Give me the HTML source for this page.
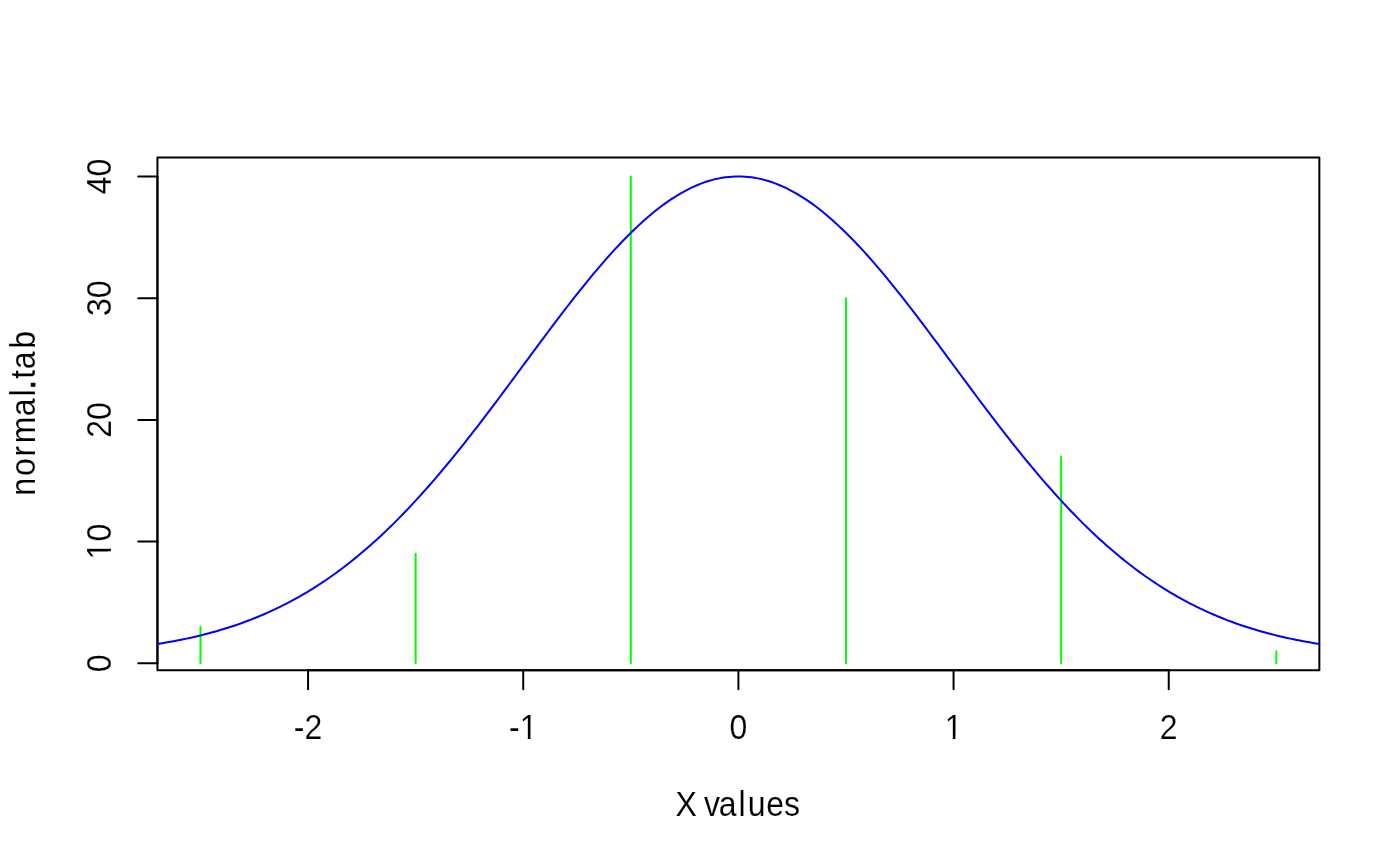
<!DOCTYPE html>
<html><head><meta charset="utf-8"><title>normal.tab</title>
<style>
html,body{margin:0;padding:0;background:#fff;}
body{width:1400px;height:866px;overflow:hidden;}
svg{display:block;}
svg{will-change:transform;}
text{font-family:"Liberation Sans",sans-serif;font-size:32px;fill:#000;text-anchor:middle;stroke:#fff;stroke-width:0.1px;stroke-linejoin:round;}
text.s{text-anchor:start;}
text.d{stroke-width:0.15px;}
.m rect{fill:#fff;}
tspan.p{stroke:#000;stroke-width:0.9px;stroke-linejoin:round;}
.k line,.k rect,.k path{stroke:#000;stroke-width:2;fill:none;stroke-linecap:round;stroke-linejoin:round;}
.g line{stroke:#00FF00;stroke-width:2;stroke-linecap:round;}
.b{stroke:#0000FF;stroke-width:2;fill:none;stroke-linecap:round;stroke-linejoin:round;}
</style></head><body>
<svg width="1400" height="866" viewBox="0 0 1400 866">
<rect x="0" y="0" width="1400" height="866" fill="#fff"/>
<defs><clipPath id="c"><rect x="157.44" y="157.44" width="1161.92" height="512.72"/></clipPath></defs>
<g class="g" clip-path="url(#c)"><line x1="200.47" y1="663.34" x2="200.47" y2="626.82"/><line x1="415.64" y1="663.34" x2="415.64" y2="553.79"/><line x1="630.81" y1="663.34" x2="630.81" y2="176.43"/><line x1="845.99" y1="663.34" x2="845.99" y2="298.16"/><line x1="1061.16" y1="663.34" x2="1061.16" y2="456.40"/><line x1="1276.33" y1="663.34" x2="1276.33" y2="651.17"/></g>
<g class="k">
<line x1="308.06" y1="670.16" x2="1168.74" y2="670.16"/><line x1="308.06" y1="670.16" x2="308.06" y2="689.36"/><line x1="523.23" y1="670.16" x2="523.23" y2="689.36"/><line x1="738.40" y1="670.16" x2="738.40" y2="689.36"/><line x1="953.57" y1="670.16" x2="953.57" y2="689.36"/><line x1="1168.74" y1="670.16" x2="1168.74" y2="689.36"/>
<line x1="157.44" y1="663.34" x2="157.44" y2="176.43"/><line x1="157.44" y1="663.34" x2="138.24" y2="663.34"/><line x1="157.44" y1="541.61" x2="138.24" y2="541.61"/><line x1="157.44" y1="419.89" x2="138.24" y2="419.89"/><line x1="157.44" y1="298.16" x2="138.24" y2="298.16"/><line x1="157.44" y1="176.43" x2="138.24" y2="176.43"/>
<rect x="157.44" y="157.44" width="1161.92" height="512.72"/>
</g>
<g class="m"><g transform="translate(308.06,738.80) scale(1,1.07)"><text class="d">-2</text></g><g transform="translate(523.23,738.80) scale(1,1.07)"><text class="d">-1</text><rect x="-1.73" y="-2.99" width="6.28" height="3.59"/><rect x="7.23" y="-2.99" width="6.03" height="3.59"/></g><g transform="translate(738.40,738.80) scale(1,1.07)"><text class="d">0</text></g><g transform="translate(953.57,738.80) scale(1,1.07)"><text class="d">1</text><rect x="-7.06" y="-2.99" width="6.28" height="3.59"/><rect x="1.90" y="-2.99" width="6.03" height="3.59"/></g><g transform="translate(1168.74,738.80) scale(1,1.07)"><text class="d">2</text></g></g>
<g class="m"><g transform="translate(111.10,663.34) rotate(-90) scale(1,1.07)"><text class="d">0</text></g><g transform="translate(111.10,541.61) rotate(-90) scale(1,1.07)"><text class="d">10</text><rect x="-15.96" y="-2.99" width="6.28" height="3.59"/><rect x="-7.00" y="-2.99" width="6.03" height="3.59"/></g><g transform="translate(111.10,419.89) rotate(-90) scale(1,1.07)"><text class="d">20</text></g><g transform="translate(111.10,298.16) rotate(-90) scale(1,1.07)"><text class="d">30</text></g><g transform="translate(111.10,176.43) rotate(-90) scale(1,1.07)"><text class="d">40</text></g></g>
<text class="s" transform="translate(0,815.9) scale(1,1.07)" x="675.55 696.90 704.00 718.77 738.59 747.83 766.23 783.98">X values</text>
<text class="s" transform="translate(35.1,500) rotate(-90) scale(1,1.07)" x="4.18 23.90 43.57 56.66 83.87 103.39 110.65 121.23 130.72 151.24">normal<tspan class="p">.</tspan>tab</text>
<g clip-path="url(#c)"><path class="b" d="M92.89,651.17 L96.12,650.92 L99.34,650.67 L102.57,650.40 L105.80,650.13 L109.03,649.84 L112.25,649.54 L115.48,649.23 L118.71,648.91 L121.94,648.58 L125.16,648.23 L128.39,647.87 L131.62,647.49 L134.85,647.11 L138.07,646.70 L141.30,646.29 L144.53,645.85 L147.76,645.40 L150.98,644.94 L154.21,644.46 L157.44,643.96 L160.67,643.44 L163.90,642.91 L167.12,642.35 L170.35,641.78 L173.58,641.19 L176.81,640.57 L180.03,639.94 L183.26,639.28 L186.49,638.61 L189.72,637.91 L192.94,637.18 L196.17,636.44 L199.40,635.67 L202.63,634.87 L205.85,634.05 L209.08,633.21 L212.31,632.33 L215.54,631.43 L218.76,630.51 L221.99,629.55 L225.22,628.57 L228.45,627.55 L231.67,626.51 L234.90,625.43 L238.13,624.33 L241.36,623.19 L244.58,622.02 L247.81,620.81 L251.04,619.58 L254.27,618.30 L257.49,617.00 L260.72,615.66 L263.95,614.28 L267.18,612.86 L270.40,611.41 L273.63,609.92 L276.86,608.39 L280.09,606.82 L283.31,605.22 L286.54,603.57 L289.77,601.88 L293.00,600.15 L296.22,598.38 L299.45,596.57 L302.68,594.72 L305.91,592.82 L309.14,590.88 L312.36,588.89 L315.59,586.86 L318.82,584.78 L322.05,582.66 L325.27,580.50 L328.50,578.29 L331.73,576.03 L334.96,573.72 L338.18,571.37 L341.41,568.97 L344.64,566.53 L347.87,564.03 L351.09,561.49 L354.32,558.90 L357.55,556.27 L360.78,553.58 L364.00,550.85 L367.23,548.07 L370.46,545.24 L373.69,542.36 L376.91,539.43 L380.14,536.46 L383.37,533.44 L386.60,530.37 L389.82,527.25 L393.05,524.09 L396.28,520.88 L399.51,517.62 L402.73,514.31 L405.96,510.96 L409.19,507.57 L412.42,504.13 L415.64,500.64 L418.87,497.11 L422.10,493.54 L425.33,489.93 L428.55,486.27 L431.78,482.57 L435.01,478.84 L438.24,475.06 L441.46,471.24 L444.69,467.39 L447.92,463.50 L451.15,459.57 L454.38,455.61 L457.60,451.62 L460.83,447.59 L464.06,443.54 L467.29,439.45 L470.51,435.33 L473.74,431.19 L476.97,427.02 L480.20,422.82 L483.42,418.61 L486.65,414.37 L489.88,410.11 L493.11,405.83 L496.33,401.54 L499.56,397.23 L502.79,392.90 L506.02,388.57 L509.24,384.22 L512.47,379.87 L515.70,375.51 L518.93,371.14 L522.15,366.78 L525.38,362.41 L528.61,358.04 L531.84,353.68 L535.06,349.32 L538.29,344.97 L541.52,340.63 L544.75,336.30 L547.97,331.99 L551.20,327.69 L554.43,323.41 L557.66,319.15 L560.88,314.91 L564.11,310.69 L567.34,306.50 L570.57,302.35 L573.79,298.22 L577.02,294.12 L580.25,290.06 L583.48,286.04 L586.70,282.06 L589.93,278.13 L593.16,274.23 L596.39,270.39 L599.62,266.59 L602.84,262.84 L606.07,259.15 L609.30,255.51 L612.53,251.93 L615.75,248.41 L618.98,244.95 L622.21,241.56 L625.44,238.23 L628.66,234.97 L631.89,231.78 L635.12,228.67 L638.35,225.62 L641.57,222.66 L644.80,219.77 L648.03,216.96 L651.26,214.23 L654.48,211.59 L657.71,209.03 L660.94,206.55 L664.17,204.17 L667.39,201.87 L670.62,199.67 L673.85,197.55 L677.08,195.54 L680.30,193.61 L683.53,191.79 L686.76,190.06 L689.99,188.43 L693.21,186.90 L696.44,185.47 L699.67,184.14 L702.90,182.92 L706.12,181.80 L709.35,180.78 L712.58,179.87 L715.81,179.07 L719.03,178.37 L722.26,177.78 L725.49,177.29 L728.72,176.92 L731.94,176.65 L735.17,176.48 L738.40,176.43 L741.63,176.48 L744.86,176.65 L748.08,176.92 L751.31,177.29 L754.54,177.78 L757.77,178.37 L760.99,179.07 L764.22,179.87 L767.45,180.78 L770.68,181.80 L773.90,182.92 L777.13,184.14 L780.36,185.47 L783.59,186.90 L786.81,188.43 L790.04,190.06 L793.27,191.79 L796.50,193.61 L799.72,195.54 L802.95,197.55 L806.18,199.67 L809.41,201.87 L812.63,204.17 L815.86,206.55 L819.09,209.03 L822.32,211.59 L825.54,214.23 L828.77,216.96 L832.00,219.77 L835.23,222.66 L838.45,225.62 L841.68,228.67 L844.91,231.78 L848.14,234.97 L851.36,238.23 L854.59,241.56 L857.82,244.95 L861.05,248.41 L864.27,251.93 L867.50,255.51 L870.73,259.15 L873.96,262.84 L877.18,266.59 L880.41,270.39 L883.64,274.23 L886.87,278.13 L890.10,282.06 L893.32,286.04 L896.55,290.06 L899.78,294.12 L903.01,298.22 L906.23,302.35 L909.46,306.50 L912.69,310.69 L915.92,314.91 L919.14,319.15 L922.37,323.41 L925.60,327.69 L928.83,331.99 L932.05,336.30 L935.28,340.63 L938.51,344.97 L941.74,349.32 L944.96,353.68 L948.19,358.04 L951.42,362.41 L954.65,366.78 L957.87,371.14 L961.10,375.51 L964.33,379.87 L967.56,384.22 L970.78,388.57 L974.01,392.90 L977.24,397.23 L980.47,401.54 L983.69,405.83 L986.92,410.11 L990.15,414.37 L993.38,418.61 L996.60,422.82 L999.83,427.02 L1003.06,431.19 L1006.29,435.33 L1009.51,439.45 L1012.74,443.54 L1015.97,447.59 L1019.20,451.62 L1022.42,455.61 L1025.65,459.57 L1028.88,463.50 L1032.11,467.39 L1035.34,471.24 L1038.56,475.06 L1041.79,478.84 L1045.02,482.57 L1048.25,486.27 L1051.47,489.93 L1054.70,493.54 L1057.93,497.11 L1061.16,500.64 L1064.38,504.13 L1067.61,507.57 L1070.84,510.96 L1074.07,514.31 L1077.29,517.62 L1080.52,520.88 L1083.75,524.09 L1086.98,527.25 L1090.20,530.37 L1093.43,533.44 L1096.66,536.46 L1099.89,539.43 L1103.11,542.36 L1106.34,545.24 L1109.57,548.07 L1112.80,550.85 L1116.02,553.58 L1119.25,556.27 L1122.48,558.90 L1125.71,561.49 L1128.93,564.03 L1132.16,566.53 L1135.39,568.97 L1138.62,571.37 L1141.84,573.72 L1145.07,576.03 L1148.30,578.29 L1151.53,580.50 L1154.75,582.66 L1157.98,584.78 L1161.21,586.86 L1164.44,588.89 L1167.66,590.88 L1170.89,592.82 L1174.12,594.72 L1177.35,596.57 L1180.58,598.38 L1183.80,600.15 L1187.03,601.88 L1190.26,603.57 L1193.49,605.22 L1196.71,606.82 L1199.94,608.39 L1203.17,609.92 L1206.40,611.41 L1209.62,612.86 L1212.85,614.28 L1216.08,615.66 L1219.31,617.00 L1222.53,618.30 L1225.76,619.58 L1228.99,620.81 L1232.22,622.02 L1235.44,623.19 L1238.67,624.33 L1241.90,625.43 L1245.13,626.51 L1248.35,627.55 L1251.58,628.57 L1254.81,629.55 L1258.04,630.51 L1261.26,631.43 L1264.49,632.33 L1267.72,633.21 L1270.95,634.05 L1274.17,634.87 L1277.40,635.67 L1280.63,636.44 L1283.86,637.18 L1287.08,637.91 L1290.31,638.61 L1293.54,639.28 L1296.77,639.94 L1299.99,640.57 L1303.22,641.19 L1306.45,641.78 L1309.68,642.35 L1312.90,642.91 L1316.13,643.44 L1319.36,643.96 L1322.59,644.46 L1325.82,644.94 L1329.04,645.40 L1332.27,645.85 L1335.50,646.29 L1338.73,646.70 L1341.95,647.11 L1345.18,647.49 L1348.41,647.87 L1351.64,648.23 L1354.86,648.58 L1358.09,648.91 L1361.32,649.23 L1364.55,649.54 L1367.77,649.84 L1371.00,650.13 L1374.23,650.40 L1377.46,650.67 L1380.68,650.92 L1383.91,651.17"/></g>
</svg>
</body></html>
